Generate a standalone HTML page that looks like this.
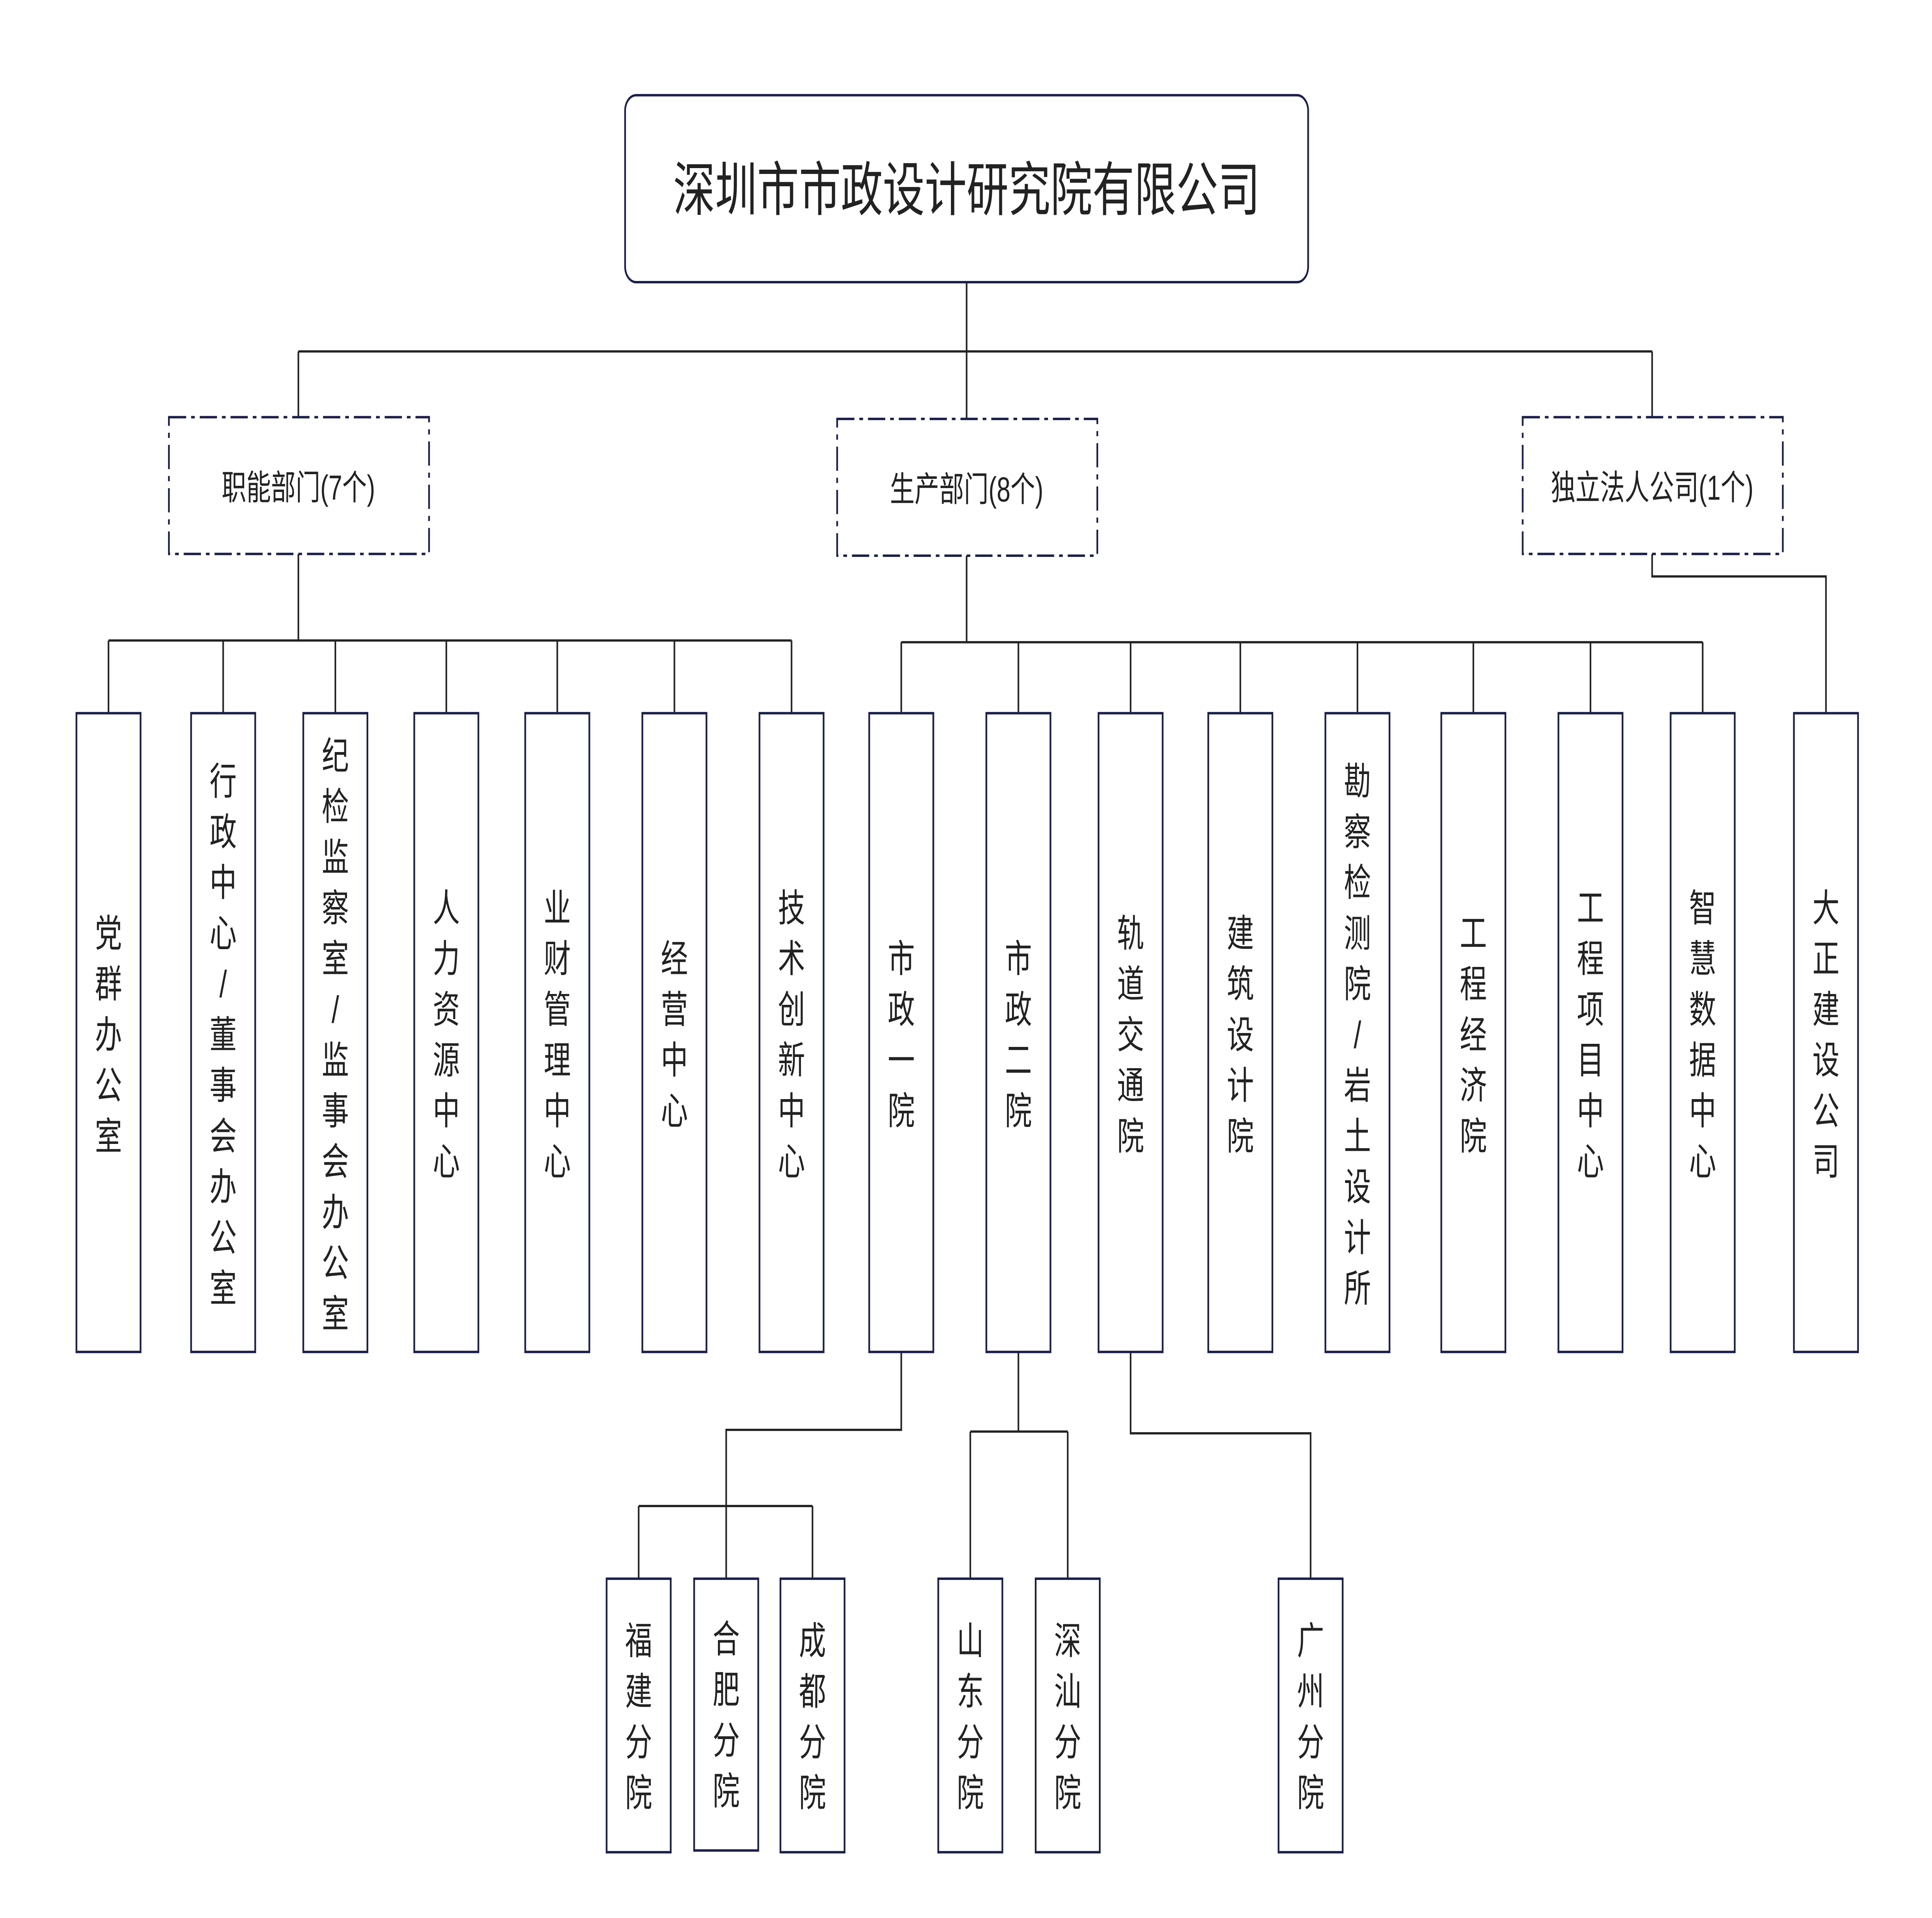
<!DOCTYPE html>
<html><head><meta charset="utf-8"><style>
html,body{margin:0;padding:0;background:#fff;width:100%;height:100%;overflow:hidden}
svg{display:block;position:fixed;left:0;top:0;width:100vw;height:100vh}
text{font-family:"Liberation Sans","Noto Sans CJK SC",sans-serif;fill:#222}
</style></head><body>
<svg viewBox="0 0 1567 1108" preserveAspectRatio="none" xmlns="http://www.w3.org/2000/svg">
<g stroke="#222" stroke-width="1.3" fill="none">
<path d="M784 163V203M242 203H1340M242 203V241M784 203V242M1340 203V241"/>
<path d="M242 320V370M88 370H642M88 370V412M181 370V412M272 370V412M362 370V412M452 370V412M547 370V412M642 370V412"/>
<path d="M784 321V371M731 371H1381M731 371V412M826 371V412M917 371V412M1006 371V412M1101 371V412M1195 371V412M1290 371V412M1381 371V412"/>
<path d="M1340 320V333H1481V412"/>
<path d="M731 781V826H589V912M518 870H659M518 870V912M659 870V912"/>
<path d="M826 781V827M787 827H866M787 827V912M866 827V912"/>
<path d="M917 781V828H1063V912"/>
</g>
<g stroke="#1a1f4a" stroke-width="1.4" fill="#fff">
<rect x="507" y="55" width="554" height="108" rx="9"/>
<g stroke-dasharray="14 4 3 4">
<rect x="137" y="241" width="211" height="79"/>
<rect x="679" y="242" width="211" height="79"/>
<rect x="1235" y="241" width="211" height="79"/>
</g>
<rect x="62" y="412" width="52" height="369"/>
<rect x="155" y="412" width="52" height="369"/>
<rect x="246" y="412" width="52" height="369"/>
<rect x="336" y="412" width="52" height="369"/>
<rect x="426" y="412" width="52" height="369"/>
<rect x="521" y="412" width="52" height="369"/>
<rect x="616" y="412" width="52" height="369"/>
<rect x="705" y="412" width="52" height="369"/>
<rect x="800" y="412" width="52" height="369"/>
<rect x="891" y="412" width="52" height="369"/>
<rect x="980" y="412" width="52" height="369"/>
<rect x="1075" y="412" width="52" height="369"/>
<rect x="1169" y="412" width="52" height="369"/>
<rect x="1264" y="412" width="52" height="369"/>
<rect x="1355" y="412" width="52" height="369"/>
<rect x="1455" y="412" width="52" height="369"/>
<rect x="492" y="912" width="52" height="158"/>
<rect x="563" y="912" width="52" height="157"/>
<rect x="633" y="912" width="52" height="158"/>
<rect x="761" y="912" width="52" height="158"/>
<rect x="840" y="912" width="52" height="158"/>
<rect x="1037" y="912" width="52" height="158"/>
</g>
<text x="784" y="110" font-size="34" text-anchor="middle" dominant-baseline="central">深圳市市政设计研究院有限公司</text>
<g font-size="20" text-anchor="middle" dominant-baseline="central">
<text x="242" y="282">职能部门(7个)</text>
<text x="784" y="283">生产部门(8个)</text>
<text x="1340" y="282">独立法人公司(1个)</text>
</g>
<g font-size="22" text-anchor="middle" dominant-baseline="central">
<text x="88" y="539.4"><tspan x="88">党</tspan><tspan x="88" dy="29.3">群</tspan><tspan x="88" dy="29.3">办</tspan><tspan x="88" dy="29.3">公</tspan><tspan x="88" dy="29.3">室</tspan></text>
<text x="181" y="451.5"><tspan x="181">行</tspan><tspan x="181" dy="29.3">政</tspan><tspan x="181" dy="29.3">中</tspan><tspan x="181" dy="29.3">心</tspan><tspan x="181" dy="29.3">/</tspan><tspan x="181" dy="29.3">董</tspan><tspan x="181" dy="29.3">事</tspan><tspan x="181" dy="29.3">会</tspan><tspan x="181" dy="29.3">办</tspan><tspan x="181" dy="29.3">公</tspan><tspan x="181" dy="29.3">室</tspan></text>
<text x="272" y="436.85"><tspan x="272">纪</tspan><tspan x="272" dy="29.3">检</tspan><tspan x="272" dy="29.3">监</tspan><tspan x="272" dy="29.3">察</tspan><tspan x="272" dy="29.3">室</tspan><tspan x="272" dy="29.3">/</tspan><tspan x="272" dy="29.3">监</tspan><tspan x="272" dy="29.3">事</tspan><tspan x="272" dy="29.3">会</tspan><tspan x="272" dy="29.3">办</tspan><tspan x="272" dy="29.3">公</tspan><tspan x="272" dy="29.3">室</tspan></text>
<text x="362" y="524.75"><tspan x="362">人</tspan><tspan x="362" dy="29.3">力</tspan><tspan x="362" dy="29.3">资</tspan><tspan x="362" dy="29.3">源</tspan><tspan x="362" dy="29.3">中</tspan><tspan x="362" dy="29.3">心</tspan></text>
<text x="452" y="524.75"><tspan x="452">业</tspan><tspan x="452" dy="29.3">财</tspan><tspan x="452" dy="29.3">管</tspan><tspan x="452" dy="29.3">理</tspan><tspan x="452" dy="29.3">中</tspan><tspan x="452" dy="29.3">心</tspan></text>
<text x="547" y="554.05"><tspan x="547">经</tspan><tspan x="547" dy="29.3">营</tspan><tspan x="547" dy="29.3">中</tspan><tspan x="547" dy="29.3">心</tspan></text>
<text x="642" y="524.75"><tspan x="642">技</tspan><tspan x="642" dy="29.3">术</tspan><tspan x="642" dy="29.3">创</tspan><tspan x="642" dy="29.3">新</tspan><tspan x="642" dy="29.3">中</tspan><tspan x="642" dy="29.3">心</tspan></text>
<text x="731" y="554.05"><tspan x="731">市</tspan><tspan x="731" dy="29.3">政</tspan><tspan x="731" dy="29.3">一</tspan><tspan x="731" dy="29.3">院</tspan></text>
<text x="826" y="554.05"><tspan x="826">市</tspan><tspan x="826" dy="29.3">政</tspan><tspan x="826" dy="29.3">二</tspan><tspan x="826" dy="29.3">院</tspan></text>
<text x="917" y="539.4"><tspan x="917">轨</tspan><tspan x="917" dy="29.3">道</tspan><tspan x="917" dy="29.3">交</tspan><tspan x="917" dy="29.3">通</tspan><tspan x="917" dy="29.3">院</tspan></text>
<text x="1006" y="539.4"><tspan x="1006">建</tspan><tspan x="1006" dy="29.3">筑</tspan><tspan x="1006" dy="29.3">设</tspan><tspan x="1006" dy="29.3">计</tspan><tspan x="1006" dy="29.3">院</tspan></text>
<text x="1101" y="451.5"><tspan x="1101">勘</tspan><tspan x="1101" dy="29.3">察</tspan><tspan x="1101" dy="29.3">检</tspan><tspan x="1101" dy="29.3">测</tspan><tspan x="1101" dy="29.3">院</tspan><tspan x="1101" dy="29.3">/</tspan><tspan x="1101" dy="29.3">岩</tspan><tspan x="1101" dy="29.3">土</tspan><tspan x="1101" dy="29.3">设</tspan><tspan x="1101" dy="29.3">计</tspan><tspan x="1101" dy="29.3">所</tspan></text>
<text x="1195" y="539.4"><tspan x="1195">工</tspan><tspan x="1195" dy="29.3">程</tspan><tspan x="1195" dy="29.3">经</tspan><tspan x="1195" dy="29.3">济</tspan><tspan x="1195" dy="29.3">院</tspan></text>
<text x="1290" y="524.75"><tspan x="1290">工</tspan><tspan x="1290" dy="29.3">程</tspan><tspan x="1290" dy="29.3">项</tspan><tspan x="1290" dy="29.3">目</tspan><tspan x="1290" dy="29.3">中</tspan><tspan x="1290" dy="29.3">心</tspan></text>
<text x="1381" y="524.75"><tspan x="1381">智</tspan><tspan x="1381" dy="29.3">慧</tspan><tspan x="1381" dy="29.3">数</tspan><tspan x="1381" dy="29.3">据</tspan><tspan x="1381" dy="29.3">中</tspan><tspan x="1381" dy="29.3">心</tspan></text>
<text x="1481" y="524.75"><tspan x="1481">大</tspan><tspan x="1481" dy="29.3">正</tspan><tspan x="1481" dy="29.3">建</tspan><tspan x="1481" dy="29.3">设</tspan><tspan x="1481" dy="29.3">公</tspan><tspan x="1481" dy="29.3">司</tspan></text>
<text x="518" y="948.05"><tspan x="518">福</tspan><tspan x="518" dy="29.3">建</tspan><tspan x="518" dy="29.3">分</tspan><tspan x="518" dy="29.3">院</tspan></text>
<text x="589" y="947.05"><tspan x="589">合</tspan><tspan x="589" dy="29.3">肥</tspan><tspan x="589" dy="29.3">分</tspan><tspan x="589" dy="29.3">院</tspan></text>
<text x="659" y="948.05"><tspan x="659">成</tspan><tspan x="659" dy="29.3">都</tspan><tspan x="659" dy="29.3">分</tspan><tspan x="659" dy="29.3">院</tspan></text>
<text x="787" y="948.05"><tspan x="787">山</tspan><tspan x="787" dy="29.3">东</tspan><tspan x="787" dy="29.3">分</tspan><tspan x="787" dy="29.3">院</tspan></text>
<text x="866" y="948.05"><tspan x="866">深</tspan><tspan x="866" dy="29.3">汕</tspan><tspan x="866" dy="29.3">分</tspan><tspan x="866" dy="29.3">院</tspan></text>
<text x="1063" y="948.05"><tspan x="1063">广</tspan><tspan x="1063" dy="29.3">州</tspan><tspan x="1063" dy="29.3">分</tspan><tspan x="1063" dy="29.3">院</tspan></text>
</g>
</svg>
</body></html>
